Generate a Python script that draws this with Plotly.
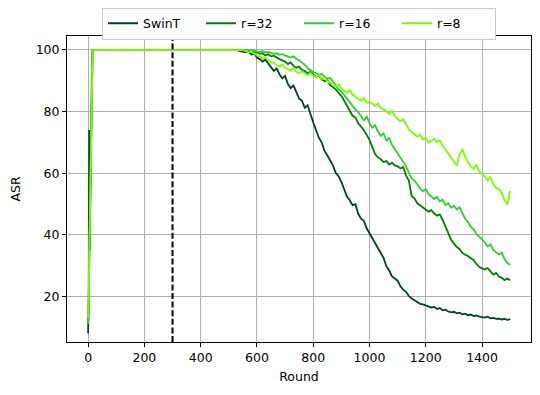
import plotly.graph_objects as go

# early phase (ramp up + plateau)
rounds_early = [0, 2, 4, 6, 8, 10, 12, 14, 16, 20, 30, 50, 100, 150, 200, 250, 300, 350, 400, 450, 500]
# late phase, every 10 rounds
rounds_late = list(range(510, 1501, 10))

swint_early = [8, 18, 74, 35, 52, 68, 84, 96, 100, 100, 100, 100, 100, 100, 100, 100, 100, 100, 100, 100, 100]
r32_early = [12, 16, 30, 45, 58, 72, 86, 97, 100, 100, 100, 100, 100, 100, 100, 100, 100, 100, 100, 100, 100]
r16_early = [11, 17, 32, 46, 60, 74, 87, 97, 100, 100, 100, 100, 100, 100, 100, 100, 100, 100, 100, 100, 100]
r8_early = [13, 19, 33, 47, 61, 75, 88, 98, 100, 100, 100, 100, 100, 100, 100, 100, 100, 100, 100, 100, 100]

swint_late = [
    100, 99.8, 99.9, 99.6, 99.5, 99.2, 99.4, 98.5, 98.8, 97.5,
    97, 96.2, 96.8, 95.5, 94.6, 93.2, 94, 92.1, 90.8, 91.5,
    88.9, 87.6, 88.4, 86, 84.2, 83.5, 81.2, 82, 79, 76.5,
    74, 71.5, 70, 67.2, 65.8, 64, 62.5, 60.1, 59, 57.2,
    55, 52.4, 51.2, 49.6, 49.9, 46.8, 45.2, 44.5, 42.1, 40.5,
    38.8, 37, 35.5, 34.2, 32.5, 29.8, 28.4, 26.5, 25.8, 25.1,
    23.3, 22.2, 21.5, 20.1, 19.3, 18.7, 18.1, 17.6, 17.4, 17,
    16.8, 16.4, 16.6, 15.9, 16.2, 15.5, 15.7, 15.1, 14.8, 15,
    14.5, 14.7, 14.2, 14.4, 13.9, 14.1, 13.6, 13.8, 13.4, 13.3,
    13.1, 13.4, 12.9, 13, 12.7, 12.8, 12.5, 12.7, 12.4, 12.6,
]
r32_late = [
    100, 100, 99.9, 99.8, 100, 99.7, 99.5, 99.6, 99.1, 99.3,
    98.8, 98.9, 98.2, 98.6, 97.9, 98.1, 97.4, 97, 96.6, 96.2,
    95.4, 95.9, 94.8, 94.2, 94.6, 93.5, 93.1, 92.4, 92.9, 92,
    91.2, 91.6, 90.4, 89.8, 90.2, 88.6, 88, 87.2, 86, 85.1,
    83.5, 82, 80.1, 78.6, 78, 76.2, 75.1, 74, 72.4, 70.8,
    68.5, 66.2, 65.1, 64.5, 63.6, 63.9, 62.8, 63.4, 62.5, 62.2,
    61.5, 62, 59.2, 57.6, 52.5, 51.8, 50.2, 49.5, 48.6, 48.2,
    47.5, 48, 46.9, 46.2, 46.6, 44.8, 42.5, 40.1, 38.4, 37.2,
    36, 35.4, 34.1, 33.5, 33.1, 32.4, 31.8, 30.5, 29.6, 29.1,
    28.7, 29.2, 28, 27.1, 27.6, 26.4, 26, 25.3, 25.8, 25.2,
]
r16_late = [
    100, 100, 100, 99.9, 100, 99.8, 99.9, 99.7, 99.8, 99.5,
    99.4, 99.6, 99.2, 99.3, 98.9, 98.7, 98.9, 98.4, 98.6, 98.1,
    97.8, 97.5, 97.9, 97.1, 96.6, 95.8, 95.2, 94.1, 93.5, 92.8,
    92.5, 91.9, 92.2, 91.3, 90.6, 90.9, 89.8, 88.5, 87.2, 86.5,
    85.4, 84.1, 83.2, 81.5, 80.6, 79.8, 78.4, 77.1, 78.5, 76.2,
    74.8, 75.6, 73.4, 72.1, 72.9, 70.6, 71.4, 69.2, 67.8, 66.5,
    65.1, 63.8, 62.2, 60.1, 58.4, 57.6, 56.2, 55, 54.1, 54.8,
    53.2, 52.5, 51.6, 52.3, 50.8, 51.4, 49.6, 50.2, 48.8, 49.5,
    48.2, 48.9, 47.1, 45.2, 44.1, 42.5, 41.8, 40.2, 39.4, 38.6,
    37.5, 36.2, 36.9, 35.1, 34.3, 33.6, 34.2, 32.1, 30.8, 30.2,
]
r8_late = [
    100, 99.9, 100, 99.8, 99.9, 99.6, 99.2, 99.4, 98.8, 98.2,
    97.9, 97.2, 97.5, 96.6, 96.1, 95.8, 95.1, 94.6, 95.2, 94.1,
    93.8, 93.2, 94, 92.9, 92.5, 93.1, 92.4, 91.8, 92.5, 91.6,
    91.2, 91.8, 90.6, 91, 89.8, 89.4, 88.9, 88.2, 88.8, 87.5,
    86.8, 86.1, 86.9, 85.4, 84.8, 84.2, 83.5, 84.4, 82.9, 83.2,
    82.5, 81.8, 82.6, 81.2, 80.6, 80.1, 79.2, 80.3, 78.4, 77.6,
    76.8, 77.5, 75.8, 74.2, 73.4, 72.6, 71.8, 72.5, 70.9, 71.4,
    69.8, 70.5, 71.2, 70.1, 70.6, 68.9, 67.5, 66.2, 65.1, 63.8,
    62.4, 66.1, 67.8, 65.2, 63.5, 62.2, 61.4, 62.8, 60.5, 59.8,
    58.9, 57.6, 58.8, 56.4, 55.2, 54.8, 53.5, 51.2, 49.8, 54.2,
]

names = ["SwinT", "r=32", "r=16", "r=8"]
colors = ["#00441b", "#007f00", "#32cd32", "#7cfc00"]


def main():
    rounds = rounds_early + rounds_late
    series = [
        swint_early + swint_late,
        r32_early + r32_late,
        r16_early + r16_late,
        r8_early + r8_late,
    ]

    fig = go.Figure()
    for name, color, y in zip(names, colors, series):
        fig.add_trace(go.Scatter(x=rounds, y=y, mode="lines", name=name,
                                 line=dict(color=color, width=1.8)))

    fig.add_vline(x=300, line=dict(color="black", width=2, dash="6px,2.6px"))

    axis_style = dict(
        showline=True, linecolor="black", linewidth=1, mirror=True,
        ticks="outside", ticklen=4, tickcolor="black",
        showgrid=True, gridcolor="#b0b0b0", gridwidth=0.8,
        zeroline=False, tickfont=dict(size=12.5, color="black"),
        automargin=False,
    )
    fig.update_xaxes(range=[-75, 1574], tickvals=[0, 200, 400, 600, 800, 1000, 1200, 1400],
                     title=dict(text="Round", font=dict(size=12.5, color="black"), standoff=8), **axis_style)
    fig.update_yaxes(range=[5.2, 104.5], tickvals=[20, 40, 60, 80, 100],
                     title=dict(text="ASR", font=dict(size=12.5, color="black"), standoff=12), **axis_style)

    fig.update_layout(
        width=540, height=395,
        margin=dict(l=67, r=9, t=35, b=53),
        paper_bgcolor="white", plot_bgcolor="white",
        font=dict(family="DejaVu Sans", size=12.5, color="black"),
        legend=dict(
            orientation="h", x=0.5, xanchor="center", y=0.985, yanchor="bottom",
            bordercolor="#cccccc", borderwidth=1, bgcolor="white",
            entrywidth=53, font=dict(size=12.5), tracegroupgap=0,
        ),
        showlegend=True,
    )

    # page body has a default 8px margin, drop it so the figure sits at 0,0
    fig.write_html("out.html", config={"displayModeBar": False},
                   post_script="document.body.style.margin='0';")


if __name__ == "__main__":
    main()
